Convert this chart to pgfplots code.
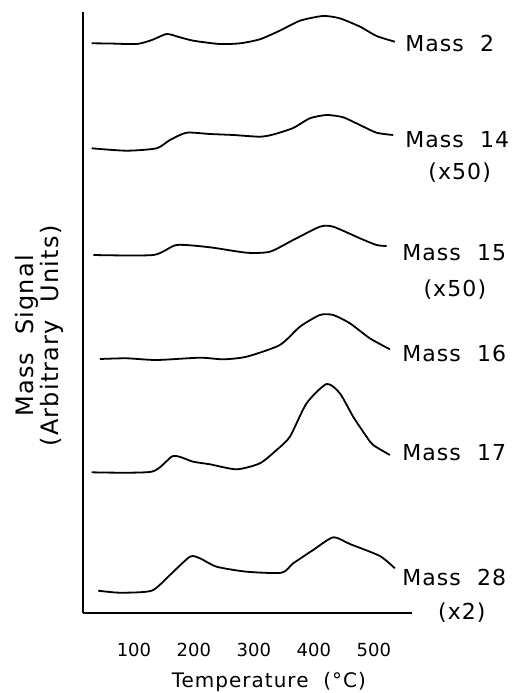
\documentclass[border=0pt]{standalone}
\usepackage{fontspec}
\setmainfont{DejaVu Sans}
\newfontfamily\lab[LetterSpace=5]{DejaVu Sans}
\usepackage{pgfplots}
\pgfplotsset{compat=1.18}

\begin{document}
\begin{tikzpicture}[curve/.style={black, solid, no markers, line width=0.9pt, smooth, tension=0.4}]
  \begin{axis}[
      scale only axis, width=164.5pt, height=300.5pt,
      xmin=14.5, xmax=563, ymin=0, ymax=601,
      axis lines=left, axis line style={-, line width=0.9pt},
      xtick={100,200,300,400,500}, ytick=\empty,
      major tick length=0pt,
      /pgf/number format/assume math mode=true,
      xticklabel style={font=\fontsize{9}{10}\selectfont, yshift=-11.5pt},
      xlabel={Temperature\ \ (°C)},
      xlabel style={at={(axis description cs:0.566,-0.1148)}, anchor=center, inner sep=0pt,
        font=\lab\fontsize{10}{12}\selectfont},
      ylabel={Mass\ \ Signal\\(Arbitrary\ \ Units)},
      ylabel style={at={(axis description cs:-0.1322,0.461)}, anchor=center, inner sep=0pt,
        align=center, font=\lab\fontsize{12}{11.5}\selectfont},
      clip=false,
    ]
    % Mass 2
    \addplot[curve] coordinates {(29.5,569.7) (60,569.5) (104.5,569) (130,573) (154.5,579) (175,576) (199,572.3) (243,569) (277,569.7) (310,573.7) (343,582.3) (377,592.3) (415,597) (443,594.7) (477,586.3) (504.5,577) (535,571.3)};
    % Mass 14 (x50)
    \addplot[curve] coordinates {(29.5,464.7) (87.8,462.3) (137.8,464.7) (160,473) (187.8,480.3) (226.7,479) (265.5,478) (310,476.3) (332.2,478.5) (365.5,485) (393.3,494.7) (421.2,498) (448.8,495.7) (476.7,488) (504.5,480.3) (532.2,478)};
    % Mass 15 (x50)
    \addplot[curve] coordinates {(32.2,358) (132.2,358) (171.2,368) (226.7,365.7) (287.8,360.3) (326.7,361.3) (365.5,373) (410,386.3) (432.2,386.3) (476.7,374.7) (504.5,368) (521.2,367)};
    % Mass 16
    \addplot[curve] coordinates {(43.3,254) (87.8,254.7) (137.8,253) (210,255.3) (248.8,253.7) (287.8,256.3) (343.3,268) (376.7,286.3) (410,298) (432.2,298) (460,289.7) (493.3,274.7) (526.7,263.7)};
    % Mass 17
    \addplot[curve] coordinates {(29.5,140.7) (129.5,141.3) (165.5,157) (198.8,151.3) (226.7,148.7) (271.2,143.7) (310,149.7) (337.8,163) (360,176.3) (387.8,209.7) (421.2,229) (443.3,219.7) (465.5,196.3) (487.8,176.3) (498.8,168) (526.7,158)};
    % Mass 28 (x2)
    \addplot[curve] coordinates {(40.5,22.3) (76.7,20.3) (129.5,22.3) (160,38) (193.3,56.3) (210,54.7) (237.8,46.3) (287.8,41.3) (346.2,40.3) (365.5,49.7) (398.8,63) (432.2,75.7) (460,69) (510,57) (535,44.7)};

    \begin{scope}[every node/.style={inner sep=0pt, font=\lab\fontsize{11}{13}\selectfont}]
      \node[anchor=west] at (axis cs:551.7,570) {Mass\ \ 2};
      \node[anchor=west] at (axis cs:551.7,473) {Mass\ \ 14};
      \node at (axis cs:643,440) {(x50)};
      \node[anchor=west] at (axis cs:546.7,360) {Mass\ \ 15};
      \node at (axis cs:635,323) {(x50)};
      \node[anchor=west] at (axis cs:546.7,260) {Mass\ \ 16};
      \node[anchor=west] at (axis cs:546.7,160) {Mass\ \ 17};
      \node[anchor=west] at (axis cs:546.7,36) {Mass\ \ 28};
      \node at (axis cs:646.7,0) {(x2)};
    \end{scope}
    % page frame
    \path (axis cs:-123.3,-80) rectangle (axis cs:733.3,613);
  \end{axis}
\end{tikzpicture}
\end{document}
